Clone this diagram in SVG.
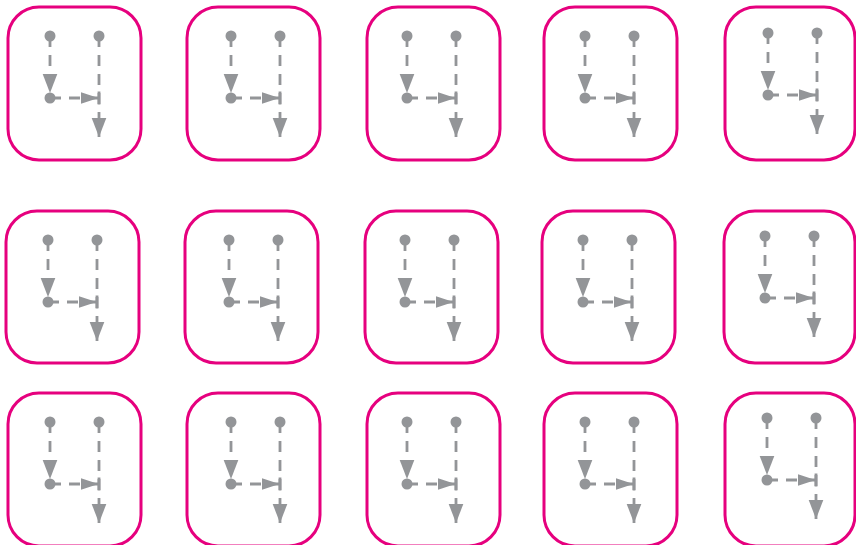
<svg xmlns="http://www.w3.org/2000/svg" width="856" height="545" viewBox="0 0 856 545">
<style>
.box{fill:#fff;stroke:#E6007E;stroke-width:3}
.conn line{stroke:#939598;stroke-width:2.8;stroke-dasharray:11 8;fill:none}
.dot{fill:#939598}
</style>
<defs>
<marker id="ah" markerUnits="userSpaceOnUse" markerWidth="21" markerHeight="16" refX="19.5" refY="7.5" orient="auto"><path d="M0,0 L19.5,7.5 L0,15 z" fill="#939598"/></marker>
<marker id="ahb" markerUnits="userSpaceOnUse" markerWidth="22" markerHeight="15" refX="18.5" refY="7" orient="auto"><path d="M0,1 L18,7 L0,13 z" fill="#939598"/><rect x="17.1" y="0.5" width="2.8" height="13" fill="#939598"/></marker>
<g id="tile">
<g class="conn">
<line x1="0" y1="0" x2="0" y2="57" marker-end="url(#ah)"/>
<line x1="0" y1="62" x2="49" y2="62" marker-end="url(#ahb)"/>
<line x1="49" y1="0" x2="49" y2="101" marker-end="url(#ah)"/>
</g>
<circle class="dot" cx="0" cy="0" r="5.5"/>
<circle class="dot" cx="49" cy="0" r="5.5"/>
<circle class="dot" cx="0" cy="62" r="5.5"/>
</g>
</defs>
<rect width="856" height="545" fill="#fff"/>
<g id="r1c1"><rect class="box" x="8" y="7" width="133" height="153" rx="31"/><use href="#tile" transform="translate(50,36)"/></g>
<g id="r1c2"><rect class="box" x="187" y="7" width="133" height="153" rx="31"/><use href="#tile" transform="translate(231,36)"/></g>
<g id="r1c3"><rect class="box" x="367" y="7" width="133" height="153" rx="31"/><use href="#tile" transform="translate(407,36)"/></g>
<g id="r1c4"><rect class="box" x="544" y="7" width="133" height="153" rx="31"/><use href="#tile" transform="translate(585,36)"/></g>
<g id="r1c5"><rect class="box" x="725" y="7" width="130" height="153" rx="31"/><use href="#tile" transform="translate(768,33)"/></g>
<g id="r2c1"><rect class="box" x="6" y="211" width="133" height="152" rx="31"/><use href="#tile" transform="translate(48,240)"/></g>
<g id="r2c2"><rect class="box" x="185" y="211" width="133" height="152" rx="31"/><use href="#tile" transform="translate(229,240)"/></g>
<g id="r2c3"><rect class="box" x="365" y="211" width="133" height="152" rx="31"/><use href="#tile" transform="translate(405,240)"/></g>
<g id="r2c4"><rect class="box" x="542" y="211" width="133" height="152" rx="31"/><use href="#tile" transform="translate(583,240)"/></g>
<g id="r2c5"><rect class="box" x="724" y="211" width="131" height="152" rx="31"/><use href="#tile" transform="translate(765,236)"/></g>
<g id="r3c1"><rect class="box" x="8" y="393" width="133" height="153" rx="31"/><use href="#tile" transform="translate(50,422)"/></g>
<g id="r3c2"><rect class="box" x="187" y="393" width="133" height="153" rx="31"/><use href="#tile" transform="translate(231,422)"/></g>
<g id="r3c3"><rect class="box" x="367" y="393" width="133" height="153" rx="31"/><use href="#tile" transform="translate(407,422)"/></g>
<g id="r3c4"><rect class="box" x="544" y="393" width="133" height="153" rx="31"/><use href="#tile" transform="translate(585,422)"/></g>
<g id="r3c5"><rect class="box" x="725" y="393" width="130" height="153" rx="31"/><use href="#tile" transform="translate(767,418)"/></g>
</svg>
